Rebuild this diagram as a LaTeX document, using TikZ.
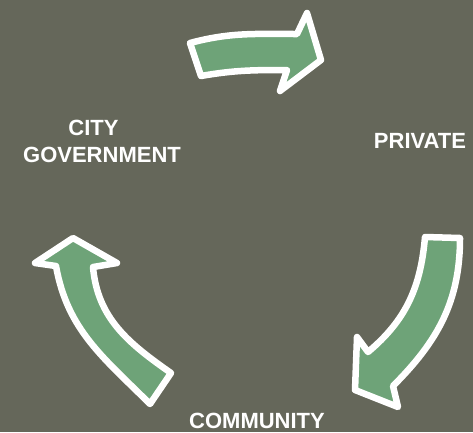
\documentclass[tikz,border=0pt]{standalone}
\usepackage{fontspec}
\setmainfont{Liberation Sans}
\usepackage{tikz}
\definecolor{slate}{RGB}{101,103,90}
\definecolor{leaf}{RGB}{110,163,120}
\tikzset{
x=1pt, y=-1pt, % pixel grid, y runs down
cyclearrow/.style={fill=leaf, draw=white, line width=6.5pt, line join=round}, % green arrow with white rim
actor/.style={text=white, font=\bfseries\fontsize{22}{26.5}\selectfont, inner sep=0pt, align=center}, % white caps labels
}
\begin{document}
\begin{tikzpicture}

            \useasboundingbox (0,0) rectangle (473,432);
            \fill[slate] (0,0) rectangle (473,432);

            % top arrow, city government -> private
            \draw[cyclearrow] (201,76) -- (190,43) to[out=15,in=180] (297,34) -- (307,13) -- (321,60)
                -- (280,91) -- (287,70) to[out=180,in=10] (201,76) -- cycle;
            % right arrow, private -> community
            \draw[cyclearrow] (425,237) -- (460,238) to[out=-90,in=45] (393,386) -- (398,407) -- (355,390)
                -- (357,337) -- (368,352) to[out=40,in=-95] (425,237) -- cycle;
            % left arrow, community -> city government
            \draw[cyclearrow] (56,266) -- (35,263) -- (73,238) -- (117,263) -- (93,267)
                to[out=-85,in=145] (171,373) -- (150,404) to[out=135,in=-80] (56,266) -- cycle;

            \node[actor, anchor=base] (city) at (102,162) {CITY\kern17pt\\GOVERNMENT};
            \node[actor, anchor=base] (private) at (420,148) {PRIVATE};
            \node[actor, anchor=base] (community) at (257,428) {COMMUNITY};

        \end{tikzpicture}
\end{document}
